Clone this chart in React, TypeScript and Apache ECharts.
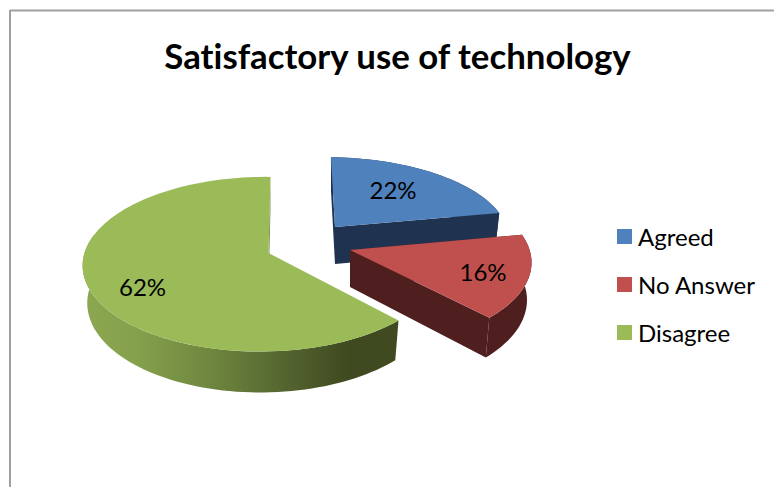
import React, { useEffect, useRef } from "react";
import * as echarts from "echarts";

const titleText = "Satisfactory use of technology";
const categories = ["Agreed", "No Answer", "Disagree"];
const shares = [22, 16, 62];
const topColors = ["#4f81bd", "#c0504d", "#9bbb59"];
const wallColors = ["#1f3350", "#4f1f1f", "#6f873f"];

// Where each exploded wedge sits on the page and how the camera distorts it.
const wedgeLayout = [
  { ax: 335, ay: 227, rx: 177, sy: 0.93, skew: 0.058, labelDx: 58, labelDy: -38 },
  { ax: 350, ay: 250, rx: 185, sy: 1.02, skew: 0.04, labelDx: 133, labelDy: 21 },
  { ax: 268.5, ay: 253, rx: 178.5, sy: 1.015, skew: -0.026, labelDx: -126, labelDy: 33 },
];

const PERSPECTIVE_Z = 0.128;
const PERSPECTIVE_X = 0.03;
const RADIUS_Y = 84.6;
const WALL_DEPTH = 37;
const BASE_SCALE_X = 0.975;
const BASE_SCALE_Y = 1.04;
const GREEN_WALL_LIMIT = 282;
const FONT = "Lato";

type Layout = (typeof wedgeLayout)[number];
type Pt = [number, number];

// Projects a rim angle (clockwise from twelve o'clock) onto the tilted disc.
function rimOffset(deg: number, w: Layout): Pt {
  const t = (deg * Math.PI) / 180;
  const d = 1 + PERSPECTIVE_Z * Math.cos(t) + PERSPECTIVE_X * Math.sin(t);
  const x = (w.rx * Math.sin(t)) / d;
  const y = (-RADIUS_Y * w.sy * Math.cos(t)) / d;
  return [x + w.skew * y, y];
}

const topPoint = (deg: number, w: Layout): Pt => {
  const [x, y] = rimOffset(deg, w);
  return [w.ax + x, w.ay + y];
};

const basePoint = (deg: number, w: Layout): Pt => {
  const [x, y] = rimOffset(deg, w);
  return [w.ax + x * BASE_SCALE_X, w.ay + WALL_DEPTH + y * BASE_SCALE_Y];
};

function sweep(from: number, to: number, fn: (deg: number) => Pt): Pt[] {
  const steps = Math.max(2, Math.ceil(Math.abs(to - from) / 2));
  const out: Pt[] = [];
  for (let i = 0; i <= steps; i++) out.push(fn(from + ((to - from) * i) / steps));
  return out;
}

const greenWall = new echarts.graphic.LinearGradient(0, 0, 1, 0, [
  { offset: 0, color: "#8ba750" },
  { offset: 0.18, color: "#84a04b" },
  { offset: 0.4, color: "#6f873f" },
  { offset: 0.68, color: "#505f2c" },
  { offset: 0.84, color: "#3f4a20" },
  { offset: 1, color: "#3f4a20" },
]);

function makeRenderItem(index: number) {
  return (_params: any, api: any) => {
    const total = shares.reduce((a, b) => a + b, 0);
    const before = shares.slice(0, index).reduce((a, b) => a + b, 0);
    const value = api.value(0) as number;
    const start = (before / total) * 360;
    const end = start + (value / total) * 360;
    const w = wedgeLayout[index];
    const apex: Pt = [w.ax, w.ay];
    const apexBase: Pt = [w.ax, w.ay + WALL_DEPTH];
    const isGreen = index === 2;

    const poly = (points: Pt[], fill: any) => ({
      type: "polygon",
      shape: { points },
      style: { fill, stroke: "none" },
    });

    const startFace = [apex, topPoint(start, w), basePoint(start, w), apexBase];
    const endFace = [apex, topPoint(end, w), basePoint(end, w), apexBase];
    const wallFinish = isGreen ? GREEN_WALL_LIMIT : end;
    const wall = [
      ...sweep(start, wallFinish, (d) => topPoint(d, w)),
      ...sweep(wallFinish, start, (d) => basePoint(d, w)),
    ];
    const top = [apex, ...sweep(start, end, (d) => topPoint(d, w))];

    const children: any[] = [];
    if (!isGreen) children.push(poly(startFace, wallColors[index]));
    children.push(poly(endFace, wallColors[index]));
    children.push(poly(wall, isGreen ? greenWall : wallColors[index]));
    children.push(poly(top, topColors[index]));
    children.push({
      type: "text",
      x: w.ax + w.labelDx,
      y: w.ay + w.labelDy,
      style: {
        text: `${value}%`,
        fill: "#000000",
        font: `24px ${FONT}`,
        align: "center",
        verticalAlign: "middle",
      },
    });
    return { type: "group", children };
  };
}

export default function App() {
  const ref = useRef<HTMLDivElement>(null);

  useEffect(() => {
    if (!ref.current) return;
    const chart = echarts.init(ref.current, undefined, { renderer: "svg" });
    chart.setOption({
      animation: false,
      backgroundColor: "#ffffff",
      title: {
        text: titleText,
        left: 392.5,
        top: 33,
        textAlign: "center",
        textStyle: { fontFamily: FONT, fontSize: 34.8, fontWeight: "bold", color: "#000000" },
      },
      legend: {
        orient: "vertical",
        left: 617,
        top: 224,
        icon: "rect",
        itemWidth: 15,
        itemHeight: 15,
        itemGap: 23,
        padding: 0,
        selectedMode: false,
        data: categories,
        textStyle: {
          fontFamily: FONT,
          fontSize: 24,
          lineHeight: 25,
          color: "#000000",
          padding: [0, 0, 0, 1],
        },
      },
      graphic: [
        { type: "line", shape: { x1: 10, y1: 10.5, x2: 774, y2: 10.5 }, style: { stroke: "#a0a0a0", lineWidth: 2 } },
        { type: "line", shape: { x1: 10, y1: 10, x2: 10, y2: 487 }, style: { stroke: "#a0a0a0", lineWidth: 2 } },
      ],
      series: categories.map((name, i) => ({
        type: "custom",
        name,
        coordinateSystem: "none",
        silent: true,
        itemStyle: { color: topColors[i] },
        data: [[shares[i]]],
        renderItem: makeRenderItem(i),
      })),
    });
    return () => chart.dispose();
  }, []);

  return (
    <div
      ref={ref}
      style={{ position: "absolute", left: 0, top: 0, width: 774, height: 487, fontVariantLigatures: "none" }}
    />
  );
}
